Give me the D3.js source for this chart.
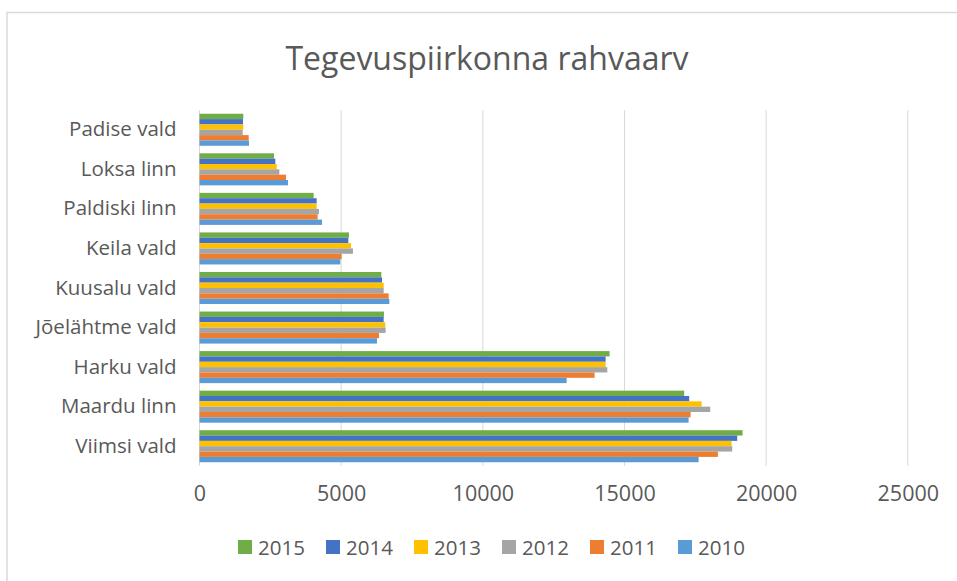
<!DOCTYPE html>
<html lang="et">
<head>
  <meta charset="UTF-8" />
  <title>Tegevuspiirkonna rahvaarv</title>
  <script src="https://d3js.org/d3.v7.min.js"></script>
  <style>
    body { margin: 0; background: #fff; }
    text { font-family: "Open Sans", "Liberation Sans", sans-serif; fill: #595959; }
  </style>
</head>
<body>
  <svg id="chart" width="957" height="581"></svg>

  <script>
    // andmed: ülevalt alla nagu pildil
    const categories = ["Padise vald", "Loksa linn", "Paldiski linn", "Keila vald", "Kuusalu vald",
                        "Jõelähtme vald", "Harku vald", "Maardu linn", "Viimsi vald"];
    const years = ["2015", "2014", "2013", "2012", "2011", "2010"];
    const colors = ["#70ad47", "#4472c4", "#ffc000", "#a5a5a5", "#ed7d31", "#5b9bd5"];

    const v2015 = [1546, 2630, 4030, 5276, 6417, 6511, 14475, 17108, 19169];
    const v2014 = [1535, 2676, 4135, 5252, 6441, 6500, 14334, 17285, 18979];
    const v2013 = [1546, 2724, 4135, 5347, 6500, 6558, 14334, 17722, 18780];
    const v2012 = [1524, 2818, 4217, 5417, 6500, 6570, 14393, 18027, 18803];
    const v2011 = [1736, 3053, 4170, 5017, 6676, 6335, 13946, 17334, 18297];
    const v2010 = [1747, 3123, 4323, 4970, 6700, 6264, 12958, 17263, 17616];
    const series = [v2015, v2014, v2013, v2012, v2011, v2010];
    const xTicks = [0, 5000, 10000, 15000, 20000, 25000];

    const svg = d3.select("#chart");

    // raam
    svg.append("path")
      .attr("d", "M7,581 V12.5 H957")
      .attr("fill", "none")
      .attr("stroke", "#d9d9d9")
      .attr("stroke-width", 1.5);

    const x = d3.scaleLinear().domain([0, 25000]).range([199.5, 907.8]);
    const y = d3.scaleBand().domain(categories).range([110, 466]).paddingInner(0.19).paddingOuter(0.095);
    const yInner = d3.scaleBand().domain(years).range([0, y.bandwidth()]);

    // ruudustik
    svg.append("g")
      .selectAll("line")
      .data(xTicks)
      .join("line")
      .attr("x1", d => x(d))
      .attr("x2", d => x(d))
      .attr("y1", 110)
      .attr("y2", 466)
      .attr("stroke", "#d9d9d9")
      .attr("stroke-width", 1);

    // tulbad
    const groups = svg.append("g")
      .selectAll("g")
      .data(categories)
      .join("g")
      .attr("transform", d => `translate(0,${y(d)})`);

    groups.selectAll("rect")
      .data((c, i) => years.map((yr, k) => ({ yr: yr, k: k, value: series[k][i] })))
      .join("rect")
      .attr("x", x(0))
      .attr("y", d => yInner(d.yr))
      .attr("width", d => x(d.value) - x(0))
      .attr("height", yInner.bandwidth())
      .attr("fill", d => colors[d.k]);

    // x-telg
    const xAxis = svg.append("g")
      .attr("transform", "translate(0,466)")
      .call(d3.axisBottom(x).tickValues(xTicks).tickSize(0).tickPadding(20).tickFormat(d3.format("d")));
    xAxis.select(".domain").remove();
    xAxis.selectAll("text")
      .attr("font-size", 21.5)
      .style("font-family", "'Open Sans', sans-serif")
      .attr("fill", "#595959");

    // y-telg
    const yAxis = svg.append("g")
      .attr("transform", "translate(199.5,0)")
      .call(d3.axisLeft(y).tickSize(0).tickPadding(23));
    yAxis.select(".domain").remove();
    yAxis.selectAll("text")
      .attr("font-size", 20.5)
      .style("font-family", "'Open Sans', sans-serif")
      .attr("fill", "#595959");

    // pealkiri
    svg.append("text")
      .attr("x", 487)
      .attr("y", 70)
      .attr("text-anchor", "middle")
      .attr("font-size", 32)
      .text("Tegevuspiirkonna rahvaarv");

    // legend
    const legend = svg.append("g")
      .selectAll("g")
      .data(years)
      .join("g")
      .attr("transform", (d, i) => `translate(${238 + i * 88},540)`);

    legend.append("rect")
      .attr("width", 14)
      .attr("height", 14)
      .attr("fill", (d, i) => colors[i]);

    legend.append("text")
      .attr("x", 20)
      .attr("y", 15)
      .attr("font-size", 20.5)
      .text(d => d);
  </script>
</body>
</html>
